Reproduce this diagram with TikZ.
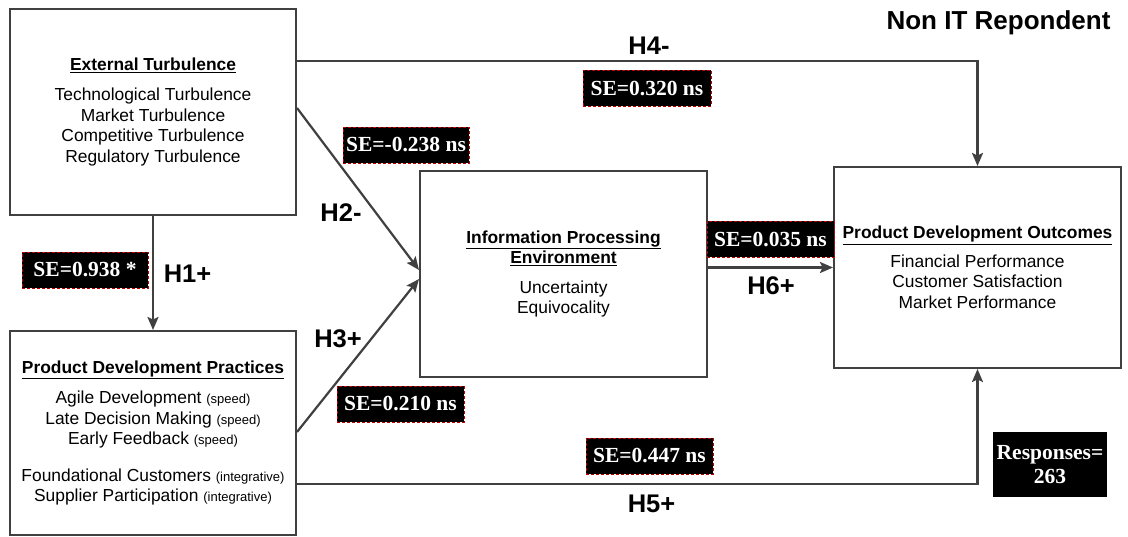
\documentclass[tikz,border=0pt]{standalone}
\usepackage{fontspec}
\setmainfont{Liberation Sans}
\newfontfamily\timesfont{Liberation Serif}
\usetikzlibrary{arrows.meta}
\definecolor{linegray}{HTML}{404040}
\newcommand{\hdr}[1]{\textbf{\underline{#1}}}
\newcommand{\sml}[1]{{\fontsize{13}{15}\selectfont #1}}

\begin{document}
\begin{tikzpicture}[x=1pt,y=-1pt]
        \tikzstyle{arrow} = [line width=2.2pt, draw=linegray, -{Stealth[length=13pt,width=11pt,inset=2.5pt]}]
        \tikzstyle{construct} = [rectangle, draw=linegray, line width=2pt, align=center, inner sep=0pt, font=\fontsize{17.4}{20.5}\selectfont]
        \tikzstyle{coef} = [rectangle, fill=black, draw=red!75!black, densely dashed, line width=0.8pt, text=white, minimum width=127pt, minimum height=36pt, inner sep=0pt, font=\timesfont\bfseries\fontsize{21.5}{24}\selectfont]
        \tikzstyle{hyp} = [anchor=base, font=\bfseries\fontsize{25.5}{28}\selectfont]
        \useasboundingbox (0,0) rectangle (1128,537);

        \node (et) [construct, minimum width=286pt, minimum height=206pt] at (153,112) {\hdr{External Turbulence}\\[10pt] Technological Turbulence\\ Market Turbulence\\ Competitive Turbulence\\ Regulatory Turbulence};
        \node (pdp) [construct, minimum width=286pt, minimum height=204pt] at (153,433) {\hdr{Product Development Practices}\\[10pt] Agile Development \sml{(speed)}\\ Late Decision Making \sml{(speed)}\\ Early Feedback \sml{(speed)}\\[16pt] Foundational Customers \sml{(integrative)}\\ Supplier Participation \sml{(integrative)}};
        \node (ipe) [construct, minimum width=287pt, minimum height=206pt] at (563.5,274) {\hdr{Information Processing}\\ \hdr{Environment}\\[9pt] Uncertainty\\ Equivocality};
        \node (pdo) [construct, minimum width=287pt, minimum height=201pt] at (977.5,267.5) {\hdr{Product Development Outcomes}\\[8pt] Financial Performance\\ Customer Satisfaction\\ Market Performance};
        \node (resp) [fill=black, text=white, minimum width=114pt, minimum height=65pt, align=center, inner sep=0pt, font=\timesfont\bfseries\fontsize{21.5}{24}\selectfont] at (1050,464.5) {Responses=\\263};
        \node (title) [hyp, font=\bfseries\fontsize{26}{30}\selectfont] at (998.5,30) {Non IT Repondent};

        \draw [arrow] (et) -- (pdp);
        \draw [arrow] ([yshift=4pt]et.east) -- ([yshift=4pt]ipe.west);
        \draw [arrow] ([yshift=1pt]pdp.east) -- ([yshift=-5pt]ipe.west);
        \draw [arrow] ([yshift=51pt]et.east) -| (pdo.north);
        \draw [arrow] ([yshift=-51pt]pdp.east) -| (pdo.south);
        \draw [arrow] (ipe.east |- pdo.west) -- (pdo.west);

        \node (se1) [coef, minimum width=126pt] at (85,270) {SE=0.938 *};
        \node (se2) [coef, minimum width=126pt] at (406,145) {SE=-0.238 ns};
        \node (se3) [coef] at (400.5,404) {SE=0.210 ns};
        \node (se4) [coef, minimum width=128pt] at (647,88.5) {SE=0.320 ns};
        \node (se5) [coef] at (649.5,456) {SE=0.447 ns};
        \node (se6) [coef] at (770.5,239.5) {SE=0.035 ns};

        \node (h1) [hyp] at (187.5,283) {H1+};
        \node (h2) [hyp] at (341,222) {H2-};
        \node (h3) [hyp] at (338,348) {H3+};
        \node (h4) [hyp] at (649,55) {H4-};
        \node (h5) [hyp] at (651.5,512) {H5+};
        \node (h6) [hyp] at (771,295) {H6+};

    \end{tikzpicture}
\end{document}
